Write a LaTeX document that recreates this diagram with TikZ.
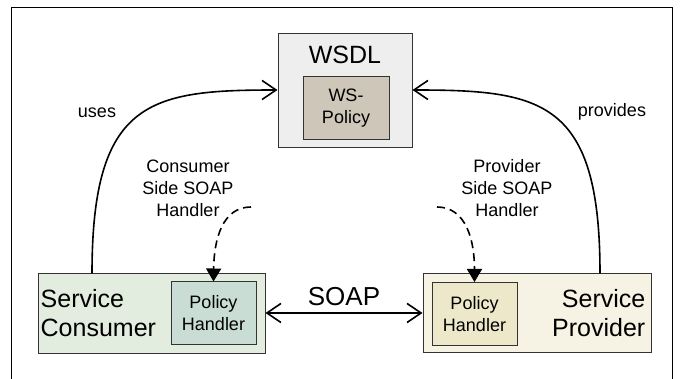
\documentclass[tikz,border=0pt]{standalone}
\usepackage{fontspec}
\setmainfont{Liberation Sans}
\usepackage{tikz}
\usetikzlibrary{arrows.meta,positioning}

\definecolor{wsdlgray}{HTML}{EEEEEE}
\definecolor{policytan}{HTML}{CEC6B9}
\definecolor{consgreen}{HTML}{E3EDDF}
\definecolor{conshand}{HTML}{C9DDD4}
\definecolor{provcream}{HTML}{F6F3E4}
\definecolor{provhand}{HTML}{EEE8CA}

\begin{document}
\begin{tikzpicture}[
    x=1pt, y=-1pt,
    outer/.style={draw=black!80, line width=1pt, inner sep=0pt},
    inner/.style={draw=black!80, line width=1pt, align=center, minimum width=85pt, minimum height=63pt, inner sep=0pt, font=\fontsize{18}{22}\selectfont},
    big/.style={font=\fontsize{25}{29}\selectfont, inner sep=0pt},
    lbl/.style={align=center, font=\fontsize{18}{22}\selectfont, inner sep=0pt},
    link/.style={line width=1.6pt, {Straight Barb[length=14pt,width=19pt,line width=1.6pt]}-},
    soap/.style={line width=1.6pt, {Straight Barb[length=14pt,width=19pt,line width=1.6pt]}-{Straight Barb[length=14pt,width=19pt,line width=1.6pt]}},
    hdl/.style={line width=1.6pt, dash pattern=on 8pt off 5pt, -{Triangle[length=13pt,width=15pt]}}
]
    \useasboundingbox (0,0) rectangle (681,379);
    % frame, open at the bottom
    \draw[line width=1pt] (11,379) -- (11,8) -- (672,8) -- (672,379);

    % WSDL document
    \node[outer, fill=wsdlgray, minimum width=134pt, minimum height=114pt] (wsdl) at (345,91) {};
    \node[big, below=12pt of wsdl.north] (wsdltxt) {WSDL};
    \node[inner, fill=policytan, minimum width=86pt] (wspolicy) at (346,108.5) {WS-\\Policy};

    % consumer side
    \node[outer, fill=consgreen, minimum width=227pt, minimum height=80pt] (cons) at (151.5,313.5) {};
    \node[big, align=left, right=3pt of cons.west] (constxt) {Service\\Consumer};
    \node[inner, fill=conshand] (conshdl) at (213.5,313.5) {Policy\\Handler};

    % provider side
    \node[outer, fill=provcream, minimum width=228pt, minimum height=79pt] (prov) at (537,313.5) {};
    \node[big, align=right, left=6pt of prov.east] (provtxt) {Service\\Provider};
    \node[inner, fill=provhand] (provhdl) at (474.5,314) {Policy\\Handler};

    % labels
    \node[lbl] (uses) at (97,113) {uses};
    \node[lbl] (provides) at (612,112) {provides};
    \node[lbl] (conslbl) at (188,188) {Consumer\\Side SOAP\\Handler};
    \node[lbl] (provlbl) at (507,188) {Provider\\Side SOAP\\Handler};
    \node[big, font=\fontsize{26}{30}\selectfont] (soaptxt) at (344,297) {SOAP};

    \coordinate (consend) at (92,273.5);
    \coordinate (provend) at (600,273.5);
    \coordinate (conshs) at (251,207);
    \coordinate (provhs) at (437,207);

    \draw[link] (wsdl.west |- 0,90) .. controls (150,90) and (92,100) .. (consend);
    \draw[link] (wsdl.east |- 0,90) .. controls (542,90) and (600,100) .. (provend);
    \draw[soap] (cons.east |- 0,313) -- (prov.west |- 0,313);
    \draw[hdl] (conshs) .. controls (222,207) and (214,240) .. (conshdl.north);
    \draw[hdl] (provhs) .. controls (466,207) and (474.5,240) .. (provhdl.north);
\end{tikzpicture}
\end{document}
